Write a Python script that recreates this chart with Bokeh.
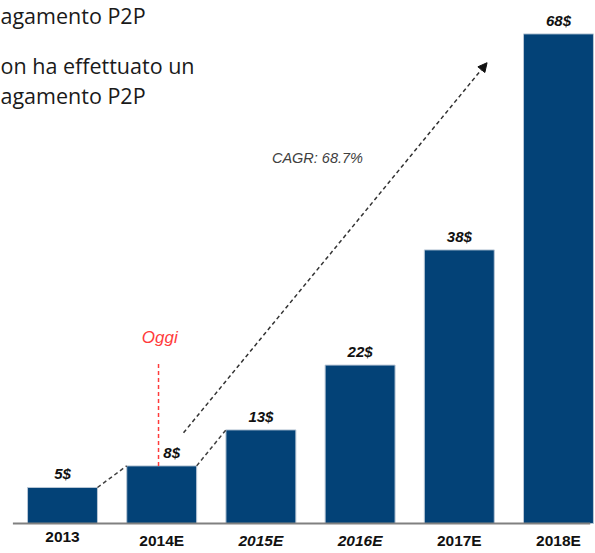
from bokeh.plotting import figure
from bokeh.models import Range1d, Label, Arrow, NormalHead, ColumnDataSource
from bokeh.embed import file_html
from bokeh.resources import INLINE
from bokeh.core.properties import value

# ---- data ----
categories = ["2013", "2014E", "2015E", "2016E", "2017E", "2018E"]
values = [5, 8, 13, 22, 38, 68]
value_labels = ["5$", "8$", "13$", "22$", "38$", "68$"]
cat_italic = [False, False, True, True, False, False]
cagr_text = "CAGR: 68.7%"
today_label = "Oggi"
today_index = 1
header_lines = ["agamento P2P", "on ha effettuato un", "agamento P2P"]

W, H = 595, 553
BAR_W = 0.705
BAR_COLOR = "#034277"

xs = list(range(len(categories)))

p = figure(width=W, height=H, output_backend="svg", toolbar_location=None,
           x_range=Range1d(-0.625, 5.373), y_range=Range1d(-4.17, 72.64),
           min_border=0, min_border_left=0, min_border_right=0,
           min_border_top=0, min_border_bottom=0)
p.axis.visible = False
p.grid.visible = False
p.outline_line_color = None
p.background_fill_color = "white"
p.border_fill_color = "white"

src = ColumnDataSource(dict(
    x=xs, top=values, lab=value_labels, cat=categories,
    xoff=[10 if i == today_index else 0 for i in xs],
))

p.vbar(x="x", top="top", bottom=0, width=BAR_W, source=src,
       fill_color=BAR_COLOR, line_color="#b9c7d6", line_width=1)

# baseline
p.segment(x0=[-0.5], y0=[0], x1=[5.32], y1=[0], line_color="#808080", line_width=2)

# value labels
p.text(x="x", y="top", text="lab", source=src, x_offset="xoff", y_offset=-5,
       text_font=value("Liberation Sans"), text_font_size="15px",
       text_font_style="bold italic", text_align="center", text_baseline="bottom",
       text_color="#111111")

# category labels
for i, c in enumerate(categories):
    p.text(x=[xs[i]], y=[0], text=[c], y_offset=9,
           text_font=value("Liberation Sans"), text_font_size="15.5px",
           text_font_style="bold italic" if cat_italic[i] else "bold",
           text_align="center", text_baseline="top", text_color="#111111")

# dashed connectors between consecutive bars (first three)
for i in range(2):
    p.segment(x0=[xs[i] + BAR_W / 2], y0=[values[i]],
              x1=[xs[i + 1] - BAR_W / 2], y1=[values[i + 1]],
              line_color="#404040", line_width=1.5, line_dash="4 3")

# "Oggi" marker
p.segment(x0=[0.968], y0=[values[today_index]], x1=[0.968], y1=[22.4],
          line_color="#ff3b3b", line_width=1.5, line_dash="4 3")
p.text(x=[0.98], y=[25.8], text=[today_label], text_font=value("Liberation Sans"),
       text_font_size="17px", text_font_style="italic", text_color="#ff3b3b",
       text_align="center", text_baseline="middle")

# CAGR arrow
p.add_layout(Arrow(x_start=1.22, y_start=12.6, x_end=4.28, y_end=64.0,
                   line_color="#333333", line_width=1.5, line_dash="4 3",
                   end=NormalHead(size=9, fill_color="#111111", line_color="#111111")))
p.text(x=[2.57], y=[50.7], text=[cagr_text], text_font=value("Liberation Sans"),
       text_font_size="14.5px", text_font_style="italic", text_color="#404040",
       text_align="center", text_baseline="middle")

# header text (cropped slide text)
for txt, sy in zip(header_lines, [H - 15, H - 65, H - 95]):
    p.add_layout(Label(x=0, y=sy, x_units="screen", y_units="screen", text=txt,
                       text_font="Open Sans", text_font_size="21.5px",
                       text_color="#1a1a1a", text_baseline="middle"))

open("out.html", "w").write(file_html(p, INLINE))
